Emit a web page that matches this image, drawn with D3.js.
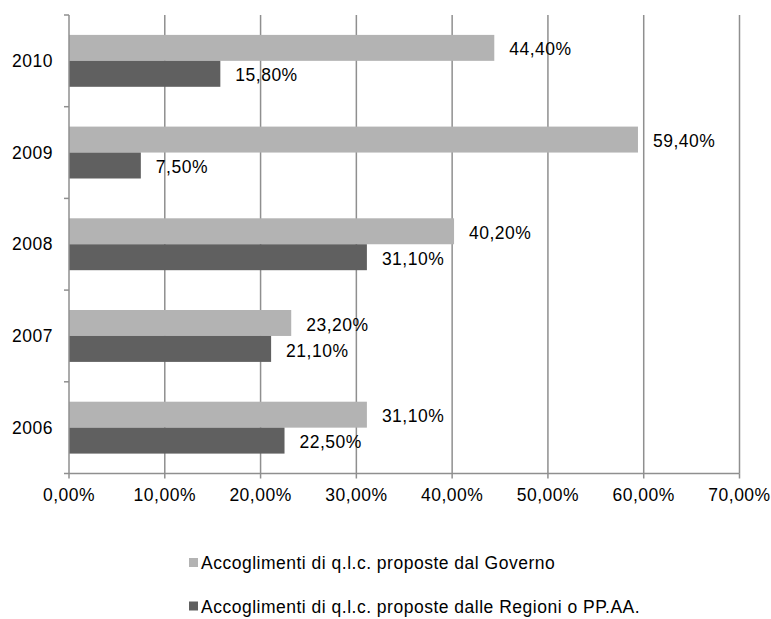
<!DOCTYPE html>
<html>
<head>
<meta charset="utf-8">
<script src="https://cdn.jsdelivr.net/npm/d3@7"></script>
<style>
  body { margin: 0; background: #fff; }
  text { font-family: "Liberation Sans", Arial, sans-serif; fill: #000; letter-spacing: 0.5px; }
</style>
</head>
<body>
<div id="chart"></div>
<script>
var w = 771
var h = 619

var years = [ "2010", "2009", "2008", "2007", "2006" ];
var governo = [ 44.4, 59.4, 40.2, 23.2, 31.1 ];
var regioni = [ 15.8, 7.5, 31.1, 21.1, 22.5 ];
var xTicks = [ 0, 10, 20, 30, 40, 50, 60, 70 ];
var seriesNames = [ "Accoglimenti di q.l.c. proposte dal Governo",
                    "Accoglimenti di q.l.c. proposte dalle Regioni o PP.AA." ];
var colors = [ "#b3b3b3", "#606060" ];

var plotLeft = 69, plotRight = 739.5, plotTop = 15, plotBottom = 473.5;
var fmt = function(v) { return v.toFixed(2).replace(".", ",") + "%"; };

var svg = d3.select("#chart").append("svg")
    .attr("width", w)
    .attr("height", h);

var x = d3.scaleLinear().domain([0, 70]).range([plotLeft, plotRight]);

// one band per year, no padding -> tick marks between years
var yOuter = d3.scaleBand().domain(years).range([plotTop, plotBottom]).padding(0);
var inner = d3.scaleBand().domain([0, 1])
    .range([yOuter.bandwidth() * 0.217, yOuter.bandwidth() * 0.783]);

// vertical gridlines
svg.selectAll("line.grid").data(xTicks.slice(1)).enter()
  .append("line")
    .attr("class", "grid")
    .attr("x1", function(d) { return x(d); })
    .attr("x2", function(d) { return x(d); })
    .attr("y1", plotTop)
    .attr("y2", plotBottom)
    .attr("stroke", "#8f8f8f")
    .attr("stroke-width", 1.5);

var rows = years.map(function(y, i) { return { year: y, vals: [governo[i], regioni[i]] }; });

var g = svg.selectAll("g.year").data(rows).enter()
  .append("g")
    .attr("class", "year")
    .attr("transform", function(d) { return "translate(0," + yOuter(d.year) + ")"; });

g.selectAll("rect").data(function(d) { return d.vals; }).enter()
  .append("rect")
    .attr("x", x(0))
    .attr("y", function(d, i) { return inner(i); })
    .attr("width", function(d) { return x(d) - x(0); })
    .attr("height", inner.bandwidth())
    .attr("fill", function(d, i) { return colors[i]; });

g.selectAll("text.val").data(function(d) { return d.vals; }).enter()
  .append("text")
    .attr("class", "val")
    .attr("x", function(d) { return x(d) + 15; })
    .attr("y", function(d, i) { return inner(i) + inner.bandwidth() / 2 + 1.5; })
    .attr("dy", ".35em")
    .style("font-size", "17.5px")
    .text(fmt);

// year labels
svg.selectAll("text.yl").data(years).enter()
  .append("text")
    .attr("class", "yl")
    .attr("x", 53)
    .attr("y", function(d) { return yOuter(d) + yOuter.bandwidth() / 2; })
    .attr("dy", ".35em")
    .attr("text-anchor", "end")
    .style("font-size", "17.5px")
    .text(function(d) { return d; });

// axes
svg.append("line")
    .attr("x1", plotLeft).attr("x2", plotLeft).attr("y1", plotTop).attr("y2", plotBottom)
    .attr("stroke", "#8f8f8f").attr("stroke-width", 1.5);
svg.append("line")
    .attr("x1", plotLeft).attr("x2", plotRight).attr("y1", plotBottom).attr("y2", plotBottom)
    .attr("stroke", "#8f8f8f").attr("stroke-width", 1.5);

var yTickPos = years.map(function(d) { return yOuter(d); }).concat([plotBottom]);
svg.selectAll("line.yt").data(yTickPos).enter()
  .append("line")
    .attr("x1", plotLeft - 5).attr("x2", plotLeft)
    .attr("y1", function(d) { return d; }).attr("y2", function(d) { return d; })
    .attr("stroke", "#8f8f8f").attr("stroke-width", 1.5);

svg.selectAll("line.xt").data(xTicks).enter()
  .append("line")
    .attr("x1", function(d) { return x(d); }).attr("x2", function(d) { return x(d); })
    .attr("y1", plotBottom).attr("y2", plotBottom + 5)
    .attr("stroke", "#8f8f8f").attr("stroke-width", 1.5);

svg.selectAll("text.xl").data(xTicks).enter()
  .append("text")
    .attr("x", function(d) { return x(d); })
    .attr("y", 495)
    .attr("dy", ".35em")
    .attr("text-anchor", "middle")
    .style("font-size", "17.5px")
    .text(fmt);

// legend
var lg = svg.selectAll("g.legend").data(seriesNames).enter()
  .append("g")
    .attr("class", "legend")
    .attr("transform", function(d, i) { return "translate(189," + (563 + i * 43.5) + ")"; });

lg.append("rect")
    .attr("x", 0).attr("y", -5)
    .attr("width", 9).attr("height", 9)
    .attr("fill", function(d, i) { return colors[i]; });

lg.append("text")
    .attr("x", 12)
    .attr("y", 0)
    .attr("dy", ".35em")
    .style("font-size", "17.5px")
    .text(function(d) { return d; });
</script>
</body>
</html>
